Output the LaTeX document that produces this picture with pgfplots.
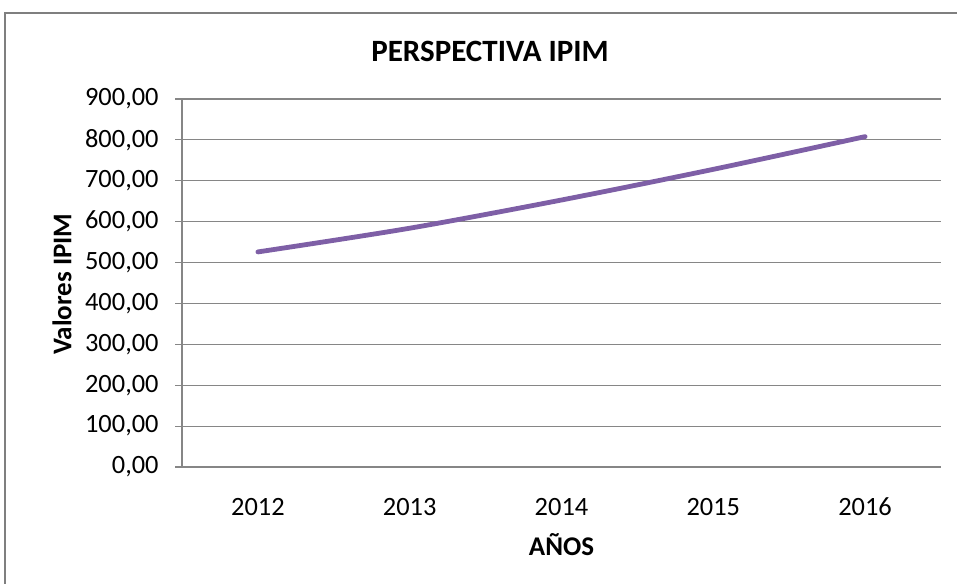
\documentclass[border=0pt]{standalone}
\usepackage{fontspec}
\setmainfont{Carlito}
\usepackage{pgfplots}
\pgfplotsset{compat=1.18}
\definecolor{gridgray}{HTML}{868686}
\definecolor{framegray}{HTML}{7F7F7F}
\definecolor{ipim}{HTML}{7E5FA6}
\begin{document}
\begin{tikzpicture}
\useasboundingbox (0pt,0pt) rectangle (478.5pt,291.5pt);
\draw[color=framegray, line width=1pt] (2.5pt,-20pt) -- (2.5pt,285pt) -- (520pt,285pt);
\node[font=\fontsize{15.5}{18}\selectfont\bfseries] at (245pt,266pt) {PERSPECTIVA IPIM};
\begin{axis}[
  at={(91pt,58pt)}, anchor=south west,
  scale only axis, width=379.5pt, height=184pt,
  xmin=-0.5, xmax=4.5, ymin=0, ymax=900,
  axis x line*=bottom, axis y line*=left,
  axis line style={color=gridgray, line width=0.6pt},
  tick align=outside,
  xtick={0,1,2,3,4},
  xticklabels={2012,2013,2014,2015,2016},
  major x tick style={draw=none},
  extra x ticks={-0.5,0.5,1.5,2.5,3.5,4.5},
  extra x tick labels={},
  extra x tick style={major tick length=4pt, tick style={color=gridgray, line width=0.6pt}, grid=none},
  ytick={0,100,...,900},
  ymajorgrids,
  major grid style={color=gridgray, line width=0.6pt},
  major tick length=3.5pt,
  tick style={color=gridgray, line width=0.6pt},
  /pgf/number format/assume math mode=true,
  /pgf/number format/fixed,
  /pgf/number format/fixed zerofill,
  /pgf/number format/precision=2,
  /pgf/number format/use comma,
  /pgf/number format/1000 sep={},
  yticklabel style={anchor=east, inner sep=0pt, xshift=-8pt, font=\fontsize{13.2}{15}\selectfont},
  xticklabel style={anchor=center, inner sep=0pt, yshift=-16.5pt, font=\fontsize{13.2}{15}\selectfont},
  xlabel={AÑOS},
  ylabel={Valores IPIM},
  xlabel style={at={(axis description cs:0.5,-0.212)}, anchor=center, font=\fontsize{13.5}{16}\selectfont\bfseries},
  ylabel style={at={(axis description cs:-0.158,0.497)}, anchor=center, font=\fontsize{13.5}{16}\selectfont\bfseries},
  clip=false,
]
\addplot[color=ipim, line width=2.4pt, smooth, line cap=round, mark=none]
  coordinates {(0,526) (1,584) (2,653) (3,728) (4,808)};
\end{axis}
\end{tikzpicture}
\end{document}
